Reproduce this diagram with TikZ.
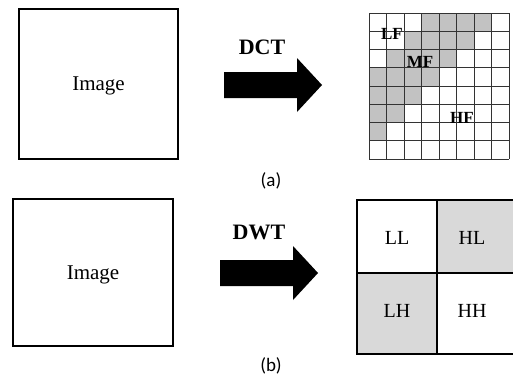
\documentclass[tikz,border=0pt]{standalone}
\usepackage{fontspec}
\setmainfont{Liberation Serif}
\newfontfamily\capfont{Carlito}
\begin{document}
\begin{tikzpicture}[x=1pt,y=-1pt,
  imgbox/.style={draw, line width=1.6pt, inner sep=0pt, text depth=0pt,
    minimum width=#1, font=\fontsize{21}{25}\selectfont},
  bandlbl/.style={font=\bfseries\fontsize{17}{20}\selectfont, inner sep=0pt},
  quadlbl/.style={font=\fontsize{20}{24}\selectfont, inner sep=0pt},
  xform/.style={font=\bfseries\fontsize{22}{26}\selectfont, inner sep=0pt},
  subcap/.style={font=\capfont\fontsize{19}{22}\selectfont, inner sep=0pt},
  cellgray/.style={fill=black!24},
  quadgray/.style={fill=black!15},
  gridline/.style={draw=black!80, line width=0.9pt},
  quadline/.style={draw=black, line width=1.8pt},
  blockarrow/.style={fill=black}]
\useasboundingbox (0,0) rectangle (513,380);

% ---------- (a) DCT ----------
\node[imgbox=159pt, minimum height=150pt] (imgA) at (98.5,84) {Image};
\node[xform] (dct) at (262,47) {DCT};
\fill[blockarrow] (224,72) -- (297,72) -- (297,58) -- (322,85)
  -- (297,112) -- (297,98) -- (224,98) -- cycle;

% 8x8 coefficient grid, low-to-mid frequencies shaded
\def\gx{369}\def\gy{13}\def\cw{17.5}\def\ch{18.25}
\foreach \r in {0,...,6}{
  \pgfmathtruncatemacro{\cs}{max(3-\r,0)}
  \pgfmathtruncatemacro{\ce}{6-\r}
  \foreach \c in {\cs,...,\ce}{
    \fill[cellgray] (\gx+\c*\cw,\gy+\r*\ch) rectangle ++(\cw,\ch);
  }
}
\foreach \i in {0,...,8}{
  \draw[gridline] (\gx+\i*\cw,\gy) -- (\gx+\i*\cw,\gy+8*\ch);
  \draw[gridline] (\gx,\gy+\i*\ch) -- (\gx+8*\cw,\gy+\i*\ch);
}
\node[bandlbl] (lf) at (392,34) {LF};
\node[bandlbl] (mf) at (420,62) {MF};
\node[bandlbl] (hf) at (462,118) {HF};

\node[subcap] (capA) at (271,181) {(a)};

% ---------- (b) DWT ----------
\node[imgbox=160pt, minimum height=147pt] (imgB) at (93,272.5) {Image};
\node[xform] (dwt) at (259,232) {DWT};
\fill[blockarrow] (220,260) -- (293,260) -- (293,246) -- (318,273)
  -- (293,300) -- (293,286) -- (220,286) -- cycle;

% one-level wavelet sub-bands
\fill[quadgray] (437,200) rectangle (517,273);
\fill[quadgray] (357,273) rectangle (437,354);
\draw[quadline] (357,200) rectangle (517,354);
\draw[quadline] (437,200) -- (437,354);
\draw[quadline] (357,273) -- (517,273);
\node[quadlbl] (ll) at (397,238) {LL};
\node[quadlbl] (hl) at (472,238) {HL};
\node[quadlbl] (lh) at (397,311) {LH};
\node[quadlbl] (hh) at (472,311) {HH};

\node[subcap] (capB) at (271,366) {(b)};
\end{tikzpicture}
\end{document}
